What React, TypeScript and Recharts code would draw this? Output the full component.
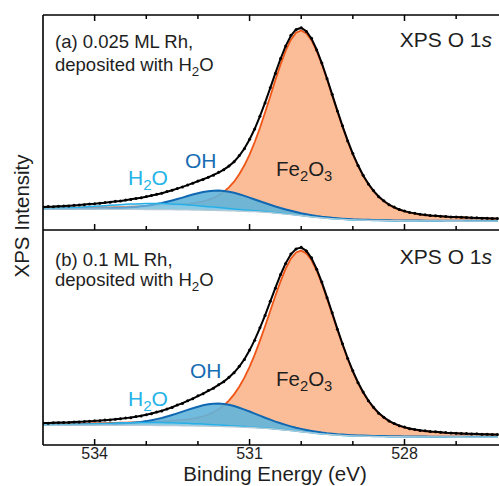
import React from 'react';
import { ComposedChart, Area, Line, XAxis, YAxis, ReferenceLine } from 'recharts';

const FONT = "'Liberation Sans', Arial, Helvetica, sans-serif";

// Binding energy (eV), high to low
const energies = [
  535.0, 534.9, 534.8, 534.7, 534.6, 534.5, 534.4, 534.3, 534.2, 534.1,
  534.0, 533.9, 533.8, 533.7, 533.6, 533.5, 533.4, 533.3, 533.2, 533.1,
  533.0, 532.9, 532.8, 532.7, 532.6, 532.5, 532.4, 532.3, 532.2, 532.1,
  532.0, 531.9, 531.8, 531.7, 531.6, 531.5, 531.4, 531.3, 531.2, 531.1,
  531.0, 530.9, 530.8, 530.7, 530.6, 530.5, 530.4, 530.3, 530.2, 530.1,
  530.0, 529.9, 529.8, 529.7, 529.6, 529.5, 529.4, 529.3, 529.2, 529.1,
  529.0, 528.9, 528.8, 528.7, 528.6, 528.5, 528.4, 528.3, 528.2, 528.1,
  528.0, 527.9, 527.8, 527.7, 527.6, 527.5, 527.4, 527.3, 527.2, 527.1,
  527.0, 526.9, 526.8, 526.7, 526.6, 526.5, 526.4, 526.3, 526.2,
];

const majorTicks = [534, 531, 528];
const allTicks = [534, 533, 532, 531, 530, 529, 528, 527];

// ---------- panel (a) 0.025 ML Rh ----------
const measuredA = [
  23.0, 23.5, 23.4, 23.9, 24.1, 24.2, 24.8, 25.1, 25.4, 26.1,
  26.3, 27.0, 27.6, 28.0, 28.8, 29.2, 30.1, 30.7, 31.7, 32.4,
  33.6, 34.6, 35.9, 36.9, 38.6, 39.9, 41.7, 43.2, 45.3, 47.0,
  49.2, 50.8, 53.1, 55.1, 57.9, 60.5, 64.4, 68.5, 74.8, 81.7,
  91.2, 101.4, 114.4, 127.7, 142.9, 157.3, 172.4, 184.8, 195.6, 201.2,
  203.3, 199.5, 192.6, 180.8, 167.8, 151.9, 136.4, 119.6, 104.7, 89.5,
  76.8, 64.7, 55.1, 46.2, 39.6, 33.4, 29.3, 25.4, 23.0, 20.5,
  19.1, 17.6, 16.8, 15.7, 15.4, 14.5, 14.3, 13.7, 13.5, 13.1,
  13.0, 12.7, 12.6, 12.2, 12.2, 11.9, 11.9, 11.5, 11.6,
];
const bgA = [
  21.0, 21.0, 21.0, 21.0, 21.0, 20.95, 20.95, 20.9, 20.9, 20.9,
  20.9, 20.85, 20.85, 20.8, 20.8, 20.75, 20.75, 20.7, 20.7, 20.65,
  20.6, 20.6, 20.55, 20.5, 20.45, 20.4, 20.3, 20.25, 20.2, 20.1,
  20.0, 19.9, 19.8, 19.7, 19.6, 19.45, 19.3, 19.15, 18.95, 18.8,
  18.6, 18.4, 18.1, 17.8, 17.45, 17.0, 16.55, 16.05, 15.5, 14.95,
  14.4, 13.8, 13.25, 12.7, 12.2, 11.75, 11.35, 11.0, 10.7, 10.4,
  10.15, 10.0, 9.85, 9.75, 9.65, 9.55, 9.45, 9.4, 9.35, 9.3,
  9.25, 9.2, 9.2, 9.15, 9.15, 9.1, 9.1, 9.1, 9.05, 9.05,
  9.05, 9.05, 9.0, 9.0, 9.0, 9.0, 9.0, 9.0, 9.0,
];
const fe2o3A = [
  1.2, 1.3, 1.3, 1.4, 1.4, 1.5, 1.5, 1.6, 1.7, 1.8,
  1.9, 2.0, 2.1, 2.2, 2.3, 2.4, 2.5, 2.7, 2.9, 3.0,
  3.2, 3.5, 3.7, 3.9, 4.2, 4.6, 5.0, 5.5, 6.0, 6.8,
  7.7, 8.9, 10.4, 12.5, 15.2, 18.8, 23.5, 29.4, 37.0, 46.2,
  57.2, 70.0, 84.4, 100.2, 116.7, 133.6, 149.7, 164.1, 175.7, 183.2,
  186.0, 183.7, 177.2, 167.0, 154.1, 139.4, 123.8, 108.1, 93.0, 78.7,
  65.8, 54.4, 44.5, 36.2, 29.3, 23.7, 19.3, 15.8, 13.1, 11.0,
  9.4, 8.2, 7.2, 6.4, 5.8, 5.3, 4.9, 4.5, 4.2, 3.9,
  3.7, 3.5, 3.3, 3.1, 2.9, 2.8, 2.6, 2.5, 2.4,
];
const ohA = [
  0.4, 0.4, 0.4, 0.4, 0.4, 0.5, 0.5, 0.6, 0.6, 0.7,
  0.7, 0.8, 0.9, 1.1, 1.2, 1.4, 1.7, 2.1, 2.5, 3.1,
  3.8, 4.6, 5.5, 6.6, 7.9, 9.3, 10.8, 12.3, 13.9, 15.5,
  16.9, 18.2, 19.1, 19.8, 20.0, 19.8, 19.1, 18.2, 16.9, 15.5,
  13.9, 12.3, 10.8, 9.3, 7.9, 6.6, 5.5, 4.6, 3.8, 3.1,
  2.5, 2.1, 1.7, 1.4, 1.2, 1.1, 0.9, 0.8, 0.7, 0.7,
  0.6, 0.6, 0.5, 0.5, 0.4, 0.4, 0.4, 0.4, 0.3, 0.3,
  0.3, 0.3, 0.3, 0.3, 0.2, 0.2, 0.2, 0.2, 0.2, 0.2,
  0.2, 0.2, 0.2, 0.2, 0.2, 0.2, 0.2, 0.1, 0.1,
];
const h2oA = [
  0.5, 0.7, 0.8, 1.0, 1.2, 1.4, 1.7, 1.9, 2.3, 2.6,
  2.9, 3.3, 3.6, 4.0, 4.4, 4.7, 5.0, 5.3, 5.5, 5.7,
  5.9, 6.0, 6.0, 6.0, 5.9, 5.7, 5.5, 5.3, 5.0, 4.7,
  4.4, 4.0, 3.6, 3.3, 2.9, 2.6, 2.3, 1.9, 1.7, 1.4,
  1.2, 1.0, 0.8, 0.7, 0.5, 0.4, 0.3, 0.3, 0.2, 0.2,
  0.1, 0.1, 0.1, 0, 0, 0, 0, 0, 0, 0,
  0, 0, 0, 0, 0, 0, 0, 0, 0, 0,
  0, 0, 0, 0, 0, 0, 0, 0, 0, 0,
  0, 0, 0, 0, 0, 0, 0, 0, 0,
];

// ---------- panel (b) 0.1 ML Rh ----------
const measuredB = [
  22.1, 21.9, 22.4, 22.4, 22.7, 22.6, 23.2, 23.1, 23.6, 23.8,
  24.3, 24.4, 25.1, 25.2, 25.9, 26.3, 27.2, 27.5, 28.6, 29.2,
  30.5, 31.4, 33.1, 34.2, 36.2, 37.8, 40.2, 41.8, 44.5, 46.4,
  49.4, 51.5, 54.7, 57.0, 60.6, 63.5, 68.0, 72.6, 79.0, 86.0,
  95.4, 105.3, 117.8, 130.0, 144.4, 157.5, 171.4, 182.4, 191.9, 196.8,
  198.6, 194.8, 188.0, 176.5, 163.7, 148.0, 132.9, 116.4, 101.7, 86.9,
  74.5, 62.6, 53.3, 44.4, 38.0, 32.0, 28.0, 24.1, 21.7, 19.4,
  18.0, 16.4, 15.6, 14.6, 14.3, 13.5, 13.3, 12.7, 12.5, 12.1,
  11.9, 11.6, 11.5, 11.1, 11.2, 10.8, 10.9, 10.5, 10.6,
];
const bgB = [
  20.0, 20.0, 20.0, 20.0, 20.0, 19.95, 19.95, 19.95, 19.9, 19.9,
  19.9, 19.9, 19.85, 19.85, 19.8, 19.8, 19.8, 19.75, 19.75, 19.7,
  19.7, 19.65, 19.6, 19.55, 19.5, 19.45, 19.4, 19.3, 19.25, 19.15,
  19.1, 19.0, 18.9, 18.8, 18.65, 18.5, 18.35, 18.2, 18.0, 17.8,
  17.6, 17.35, 17.05, 16.7, 16.35, 15.9, 15.45, 14.95, 14.4, 13.85,
  13.3, 12.75, 12.2, 11.65, 11.15, 10.7, 10.3, 9.95, 9.65, 9.35,
  9.15, 9.0, 8.85, 8.75, 8.6, 8.5, 8.45, 8.4, 8.35, 8.3,
  8.25, 8.2, 8.2, 8.15, 8.15, 8.1, 8.1, 8.1, 8.1, 8.05,
  8.05, 8.05, 8.0, 8.0, 8.0, 8.0, 8.0, 8.0, 8.0,
];
const fe2o3B = [
  1.3, 1.3, 1.4, 1.5, 1.5, 1.6, 1.7, 1.7, 1.8, 1.9,
  2.0, 2.1, 2.2, 2.3, 2.4, 2.6, 2.7, 2.9, 3.0, 3.2,
  3.4, 3.6, 3.9, 4.2, 4.5, 4.9, 5.4, 5.9, 6.5, 7.4,
  8.4, 9.8, 11.7, 14.1, 17.2, 21.2, 26.3, 32.7, 40.5, 49.9,
  60.9, 73.5, 87.6, 102.6, 118.3, 134.1, 149.0, 162.3, 172.8, 179.6,
  182.0, 179.8, 173.4, 163.4, 150.8, 136.4, 121.2, 105.8, 91.0, 77.0,
  64.4, 53.2, 43.6, 35.4, 28.7, 23.2, 18.9, 15.5, 12.8, 10.8,
  9.2, 8.0, 7.0, 6.3, 5.7, 5.2, 4.8, 4.4, 4.1, 3.9,
  3.6, 3.4, 3.2, 3.0, 2.9, 2.7, 2.6, 2.4, 2.3,
];
const ohB = [
  0.4, 0.4, 0.5, 0.5, 0.5, 0.5, 0.6, 0.6, 0.7, 0.8,
  0.8, 0.9, 1.1, 1.2, 1.4, 1.7, 2.0, 2.4, 2.9, 3.5,
  4.3, 5.3, 6.4, 7.6, 9.1, 10.7, 12.4, 14.2, 16.0, 17.8,
  19.4, 20.9, 22.0, 22.7, 23.0, 22.7, 22.0, 20.9, 19.4, 17.8,
  16.0, 14.2, 12.4, 10.7, 9.1, 7.6, 6.4, 5.3, 4.3, 3.5,
  2.9, 2.4, 2.0, 1.7, 1.4, 1.2, 1.1, 0.9, 0.8, 0.8,
  0.7, 0.6, 0.6, 0.5, 0.5, 0.5, 0.5, 0.4, 0.4, 0.4,
  0.4, 0.3, 0.3, 0.3, 0.3, 0.3, 0.3, 0.3, 0.2, 0.2,
  0.2, 0.2, 0.2, 0.2, 0.2, 0.2, 0.2, 0.2, 0.2,
];
const h2oB = [
  0.3, 0.3, 0.4, 0.5, 0.6, 0.7, 0.8, 1.0, 1.1, 1.3,
  1.5, 1.6, 1.8, 2.0, 2.2, 2.3, 2.5, 2.6, 2.8, 2.9,
  2.9, 3.0, 3.0, 3.0, 2.9, 2.9, 2.8, 2.6, 2.5, 2.3,
  2.2, 2.0, 1.8, 1.6, 1.5, 1.3, 1.1, 1.0, 0.8, 0.7,
  0.6, 0.5, 0.4, 0.3, 0.3, 0.2, 0.2, 0.1, 0.1, 0.1,
  0.1, 0.1, 0, 0, 0, 0, 0, 0, 0, 0,
  0, 0, 0, 0, 0, 0, 0, 0, 0, 0,
  0, 0, 0, 0, 0, 0, 0, 0, 0, 0,
  0, 0, 0, 0, 0, 0, 0, 0, 0,
];

const rows = energies.map((e, i) => ({
  e,
  feRA: [bgA[i], bgA[i] + fe2o3A[i]],
  feLA: bgA[i] + fe2o3A[i],
  ohRA: [bgA[i], bgA[i] + ohA[i]],
  ohLA: bgA[i] + ohA[i],
  hwRA: [bgA[i], bgA[i] + h2oA[i]],
  hwLA: bgA[i] + h2oA[i],
  bgA: bgA[i],
  fitA: bgA[i] + fe2o3A[i] + ohA[i] + h2oA[i],
  measA: measuredA[i],
  feRB: [bgB[i], bgB[i] + fe2o3B[i]],
  feLB: bgB[i] + fe2o3B[i],
  ohRB: [bgB[i], bgB[i] + ohB[i]],
  ohLB: bgB[i] + ohB[i],
  hwRB: [bgB[i], bgB[i] + h2oB[i]],
  hwLB: bgB[i] + h2oB[i],
  bgB: bgB[i],
  fitB: bgB[i] + fe2o3B[i] + ohB[i] + h2oB[i],
  measB: measuredB[i],
}));

const C = {
  feFill: '#fbbd98',
  feLine: '#f05516',
  ohFill: '#62b4dc',
  ohLine: '#1168b2',
  hwFill: '#a6ddf4',
  hwLine: '#27b0e8',
  bg: '#b4cad6',
  text: '#1e1e1e',
  ohText: '#186cb4',
  hwText: '#25b3e8',
};

function seriesFor(p: 'A' | 'B', axis: string, z0: number) {
  return [
    <Area key={'fer' + p} yAxisId={axis} type="linear" dataKey={'feR' + p} fill={C.feFill} fillOpacity={1} stroke="none" isAnimationActive={false} zIndex={z0 + 1} />,
    <Line key={'fel' + p} yAxisId={axis} type="linear" dataKey={'feL' + p} stroke={C.feLine} strokeWidth={1.8} dot={false} isAnimationActive={false} zIndex={z0 + 2} />,
    <Area key={'ohr' + p} yAxisId={axis} type="linear" dataKey={'ohR' + p} fill={C.ohFill} fillOpacity={0.9} stroke="none" isAnimationActive={false} zIndex={z0 + 3} />,
    <Line key={'ohl' + p} yAxisId={axis} type="linear" dataKey={'ohL' + p} stroke={C.ohLine} strokeWidth={2} dot={false} isAnimationActive={false} zIndex={z0 + 4} />,
    <Area key={'hwr' + p} yAxisId={axis} type="linear" dataKey={'hwR' + p} fill={C.hwFill} fillOpacity={0.5} stroke="none" isAnimationActive={false} zIndex={z0 + 5} />,
    <Line key={'hwl' + p} yAxisId={axis} type="linear" dataKey={'hwL' + p} stroke={C.hwLine} strokeWidth={1.5} dot={false} isAnimationActive={false} zIndex={z0 + 6} />,
    <Line key={'bg' + p} yAxisId={axis} type="linear" dataKey={'bg' + p} stroke={C.bg} strokeWidth={1.3} dot={false} isAnimationActive={false} zIndex={z0 + 7} />,
    <Line key={'fit' + p} yAxisId={axis} type="linear" dataKey={'fit' + p} stroke="#000" strokeWidth={2} dot={false} isAnimationActive={false} zIndex={z0 + 8} />,
    <Line key={'meas' + p} yAxisId={axis} type="linear" dataKey={'meas' + p} stroke="none" strokeWidth={0} dot={{ r: 1.5, fill: '#000', stroke: 'none' }} isAnimationActive={false} zIndex={z0 + 9} />,
  ];
}

const tickLen = (t: number) => (majorTicks.includes(t) ? 6 : 4);

function Sub({ children }: { children: React.ReactNode }) {
  return (
    <tspan fontSize="0.72em" dy="5">{children}</tspan>
  );
}

export default function App() {
  return (
    <div style={{ position: 'absolute', left: 0, top: 0, width: 499, height: 486, overflow: 'hidden', background: '#fff' }}>
      <ComposedChart width={499} height={486} data={rows} margin={{ top: 15, right: 0, bottom: 0, left: 0 }}>
        <XAxis
          dataKey="e"
          type="number"
          domain={[526.17, 535]}
          reversed
          allowDataOverflow
          ticks={majorTicks}
          interval={0}
          tickLine={false}
          tickSize={0}
          tickMargin={3}
          height={41}
          axisLine={{ stroke: '#000', strokeWidth: 1.6 }}
          tick={{ fontSize: 16, fill: C.text, fontFamily: FONT }}
        />
        <YAxis yAxisId="a" domain={[-216, 216]} allowDataOverflow width={43} tick={false} tickLine={false} axisLine={{ stroke: '#000', strokeWidth: 1.6 }} />
        <YAxis yAxisId="b" domain={[0, 432]} allowDataOverflow hide />
        {seriesFor('A', 'a', 100)}
        {seriesFor('B', 'b', 120)}
        <ReferenceLine yAxisId="a" y={216} stroke="#000" strokeWidth={1.6} />
        <ReferenceLine yAxisId="a" y={0} stroke="#000" strokeWidth={1.6} />
        {allTicks.map((t) => (
          <ReferenceLine key={'tt' + t} yAxisId="a" segment={[{ x: t, y: 216 }, { x: t, y: 216 - tickLen(t) }]} stroke="#000" strokeWidth={1.5} />
        ))}
        {allTicks.map((t) => (
          <ReferenceLine key={'tm' + t} yAxisId="a" segment={[{ x: t, y: 0 }, { x: t, y: tickLen(t) }]} stroke="#000" strokeWidth={1.5} />
        ))}
        {allTicks.map((t) => (
          <ReferenceLine key={'tb' + t} yAxisId="b" segment={[{ x: t, y: 0 }, { x: t, y: tickLen(t) }]} stroke="#000" strokeWidth={1.5} />
        ))}
      </ComposedChart>
      <svg width={499} height={486} style={{ position: 'absolute', left: 0, top: 0, pointerEvents: 'none' }} fontFamily={FONT}>
        {/* panel (a) */}
        <text x={55} y={48} fontSize={18.5} fill={C.text}>(a) 0.025 ML Rh,</text>
        <text x={55} y={71} fontSize={18.5} fill={C.text}>deposited with H<Sub>2</Sub><tspan dy="-5">O</tspan></text>
        <text x={492} y={47} fontSize={21} fill={C.text} textAnchor="end">XPS O 1<tspan fontStyle="italic">s</tspan></text>
        <text x={185} y={168} fontSize={21} fill={C.ohText}>OH</text>
        <text x={128} y={185} fontSize={21} fill={C.hwText}>H<Sub>2</Sub><tspan dy="-5">O</tspan></text>
        <text x={276} y={176} fontSize={20.5} fill={C.text}>Fe<Sub>2</Sub><tspan dy="-5">O</tspan><Sub>3</Sub></text>
        {/* panel (b) */}
        <text x={55} y={266} fontSize={18.5} fill={C.text}>(b) 0.1 ML Rh,</text>
        <text x={55} y={286} fontSize={18.5} fill={C.text}>deposited with H<Sub>2</Sub><tspan dy="-5">O</tspan></text>
        <text x={492} y={264} fontSize={21} fill={C.text} textAnchor="end">XPS O 1<tspan fontStyle="italic">s</tspan></text>
        <text x={190} y={378} fontSize={21} fill={C.ohText}>OH</text>
        <text x={128} y={406} fontSize={21} fill={C.hwText}>H<Sub>2</Sub><tspan dy="-5">O</tspan></text>
        <text x={276} y={386} fontSize={20.5} fill={C.text}>Fe<Sub>2</Sub><tspan dy="-5">O</tspan><Sub>3</Sub></text>
        {/* axis titles */}
        <text x={275} y={481} fontSize={20.5} fill={C.text} textAnchor="middle">Binding Energy (eV)</text>
        <text x={0} y={0} fontSize={20.5} fill={C.text} textAnchor="middle" transform="translate(29 216) rotate(-90)">XPS Intensity</text>
      </svg>
    </div>
  );
}
